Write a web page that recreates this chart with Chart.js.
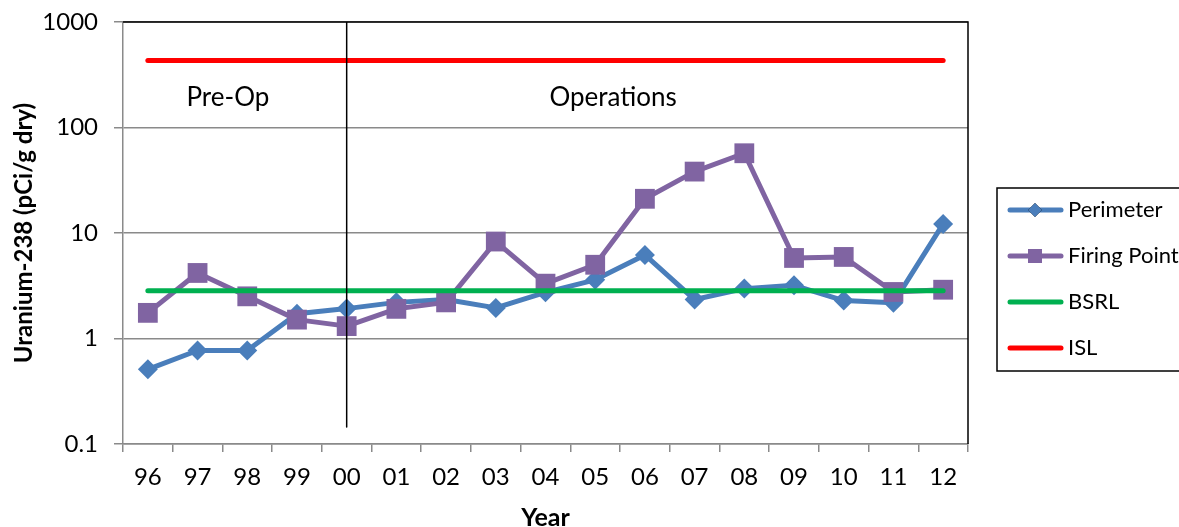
<!DOCTYPE html>
<html>
<head>
<meta charset="utf-8">
<script src="https://cdn.jsdelivr.net/npm/chart.js@4/dist/chart.umd.min.js"></script>
<style>
  html, body { margin: 0; padding: 0; background: #ffffff; }
  #wrap { width: 1179px; height: 527px; overflow: hidden; }
</style>
</head>
<body>
<div id="wrap"><canvas id="chart" width="1179" height="527"></canvas></div>
<script>
// Sampling years (two-digit)
const years = ['96','97','98','99','00','01','02','03','04','05','06','07','08','09','10','11','12'];

// Uranium-238 results, pCi/g dry
const perimeter   = [0.51, 0.77, 0.77, 1.72, 1.92, 2.2, 2.34, 1.95, 2.74, 3.6, 6.2, 2.34, 2.97, 3.19, 2.29, 2.18, 12.2];
const firingPoint = [1.75, 4.18, 2.51, 1.51, 1.31, 1.91, 2.2, 8.3, 3.31, 5.0, 21.1, 38.2, 57, 5.8, 5.93, 2.76, 2.9];

// Reference levels
const bsrlValue = 2.84;
const islValue  = 432;

// Boundary between pre-operational and operational periods
const phaseBoundaryYear = '00';
const phaseLineRange = [1000, 0.145];

// Period labels: [text, category position, value]
const phaseLabels = [['Pre-Op', 1.61, 193], ['Operations', 9.36, 193]];

const yTicks = [0.1, 1, 10, 100, 1000];

const FONT = 'Lato, "Open Sans", sans-serif';
const GRID = '#8a8a8a';

const bsrl = years.map(() => bsrlValue);
const isl  = years.map(() => islValue);

// Period text, frame and legend box
const decorations = {
  id: 'decorations',
  afterDatasetsDraw(chart) {
    const { ctx, chartArea: a, scales: { x, y } } = chart;
    ctx.save();
    ctx.fillStyle = '#000';
    ctx.font = '26px ' + FONT;
    ctx.textAlign = 'center';
    ctx.textBaseline = 'middle';
    phaseLabels.forEach(([t, xi, v]) => ctx.fillText(t, x.getPixelForValue(xi), y.getPixelForValue(v)));

    // black top and right frame
    ctx.strokeStyle = '#000';
    ctx.lineWidth = 1.5;
    ctx.beginPath();
    ctx.moveTo(a.left, a.top);
    ctx.lineTo(a.right, a.top);
    ctx.lineTo(a.right, a.bottom);
    ctx.stroke();

    // legend
    const lx = 997, ly = 188, lw = 190, lh = 183;
    ctx.lineWidth = 1.5;
    ctx.strokeRect(lx, ly, lw, lh);
    const items = chart.data.datasets.filter(d => d.label);
    const rowY = [210, 256, 302, 348];
    items.forEach((d, i) => {
      const cy = rowY[i];
      ctx.strokeStyle = d.borderColor;
      ctx.lineWidth = 5;
      ctx.lineCap = 'round';
      ctx.beginPath();
      ctx.moveTo(1010, cy);
      ctx.lineTo(1061, cy);
      ctx.stroke();
      if (d.pointStyle === 'rectRot') {
        ctx.beginPath();
        Chart.helpers.drawPoint(ctx, { pointStyle: 'rectRot', radius: 7, borderWidth: 0 }, 1035, cy);
        ctx.fillStyle = d.backgroundColor;
        ctx.fill();
      } else if (d.pointStyle === 'rect') {
        ctx.fillStyle = d.backgroundColor;
        ctx.fillRect(1035 - 7, cy - 7, 14, 14);
      }
      ctx.fillStyle = '#000';
      ctx.font = '22px ' + FONT;
      ctx.textAlign = 'left';
      ctx.textBaseline = 'middle';
      ctx.fillText(d.label, 1068, cy);
    });
    ctx.restore();
  }
};

new Chart(document.getElementById('chart'), {
  type: 'line',
  data: {
    labels: years,
    datasets: [
      {
        label: 'Perimeter', data: perimeter, order: 4,
        borderColor: '#4A7EBB', backgroundColor: '#4A7EBB', borderWidth: 5,
        pointStyle: 'rectRot', pointRadius: 10, pointBorderWidth: 0,
        pointBackgroundColor: '#4A7EBB'
      },
      {
        label: 'Firing Point', data: firingPoint, order: 3,
        borderColor: '#8064A2', backgroundColor: '#8064A2', borderWidth: 5,
        pointStyle: 'rect', pointRadius: 14, pointBorderWidth: 0,
        pointBackgroundColor: '#8064A2'
      },
      {
        label: 'BSRL', data: bsrl, order: 2,
        borderColor: '#00B050', backgroundColor: '#00B050', borderWidth: 5,
        borderCapStyle: 'round', pointRadius: 0, pointStyle: false
      },
      {
        label: 'ISL', data: isl, order: 1,
        borderColor: '#FF0000', backgroundColor: '#FF0000', borderWidth: 5,
        borderCapStyle: 'round', pointRadius: 0, pointStyle: false
      },
      {
        label: '', order: 0,
        data: phaseLineRange.map(v => ({ x: phaseBoundaryYear, y: v })),
        borderColor: '#000', borderWidth: 1.5, pointRadius: 0
      }
    ]
  },
  options: {
    responsive: false,
    animation: false,
    devicePixelRatio: 1,
    layout: { padding: { top: 22, right: 211, bottom: 0, left: 0 } },
    plugins: { legend: { display: false }, tooltip: { enabled: false } },
    elements: { line: { tension: 0, borderJoinStyle: 'round' } },
    scales: {
      x: {
        type: 'category',
        offset: true,
        afterFit(s) { s.height = 83; s.paddingLeft = 0; s.paddingRight = 0; },
        grid: {
          offset: true, drawOnChartArea: false, drawTicks: true,
          tickLength: 8, tickColor: GRID, lineWidth: 1.5
        },
        border: { color: GRID, width: 1.5 },
        ticks: { color: '#000', font: { family: FONT, size: 24 }, padding: 11, maxRotation: 0, autoSkip: false },
        title: {
          display: true, text: 'Year', color: '#000',
          font: { family: FONT, size: 25, weight: 'bold', lineHeight: 0.5 },
          padding: { top: 0, bottom: 2.5 }
        }
      },
      y: {
        type: 'logarithmic',
        min: 0.1, max: 1000,
        afterFit(s) { s.width = 123; s.paddingTop = 0; s.paddingBottom = 0; },
        afterBuildTicks(s) { s.ticks = yTicks.map(v => ({ value: v })); },
        grid: { color: GRID, lineWidth: 1.5, tickLength: 9, tickColor: GRID },
        border: { color: GRID, width: 1.5 },
        ticks: {
          color: '#000', font: { family: FONT, size: 24 }, padding: 16,
          callback: v => String(v)
        },
        title: {
          display: true, text: 'Uranium-238 (pCi/g dry)', color: '#000',
          font: { family: FONT, size: 24, weight: 'bold', lineHeight: 1.2 },
          padding: { top: 10, bottom: 0 }
        }
      }
    }
  },
  plugins: [decorations]
});
</script>
</body>
</html>
